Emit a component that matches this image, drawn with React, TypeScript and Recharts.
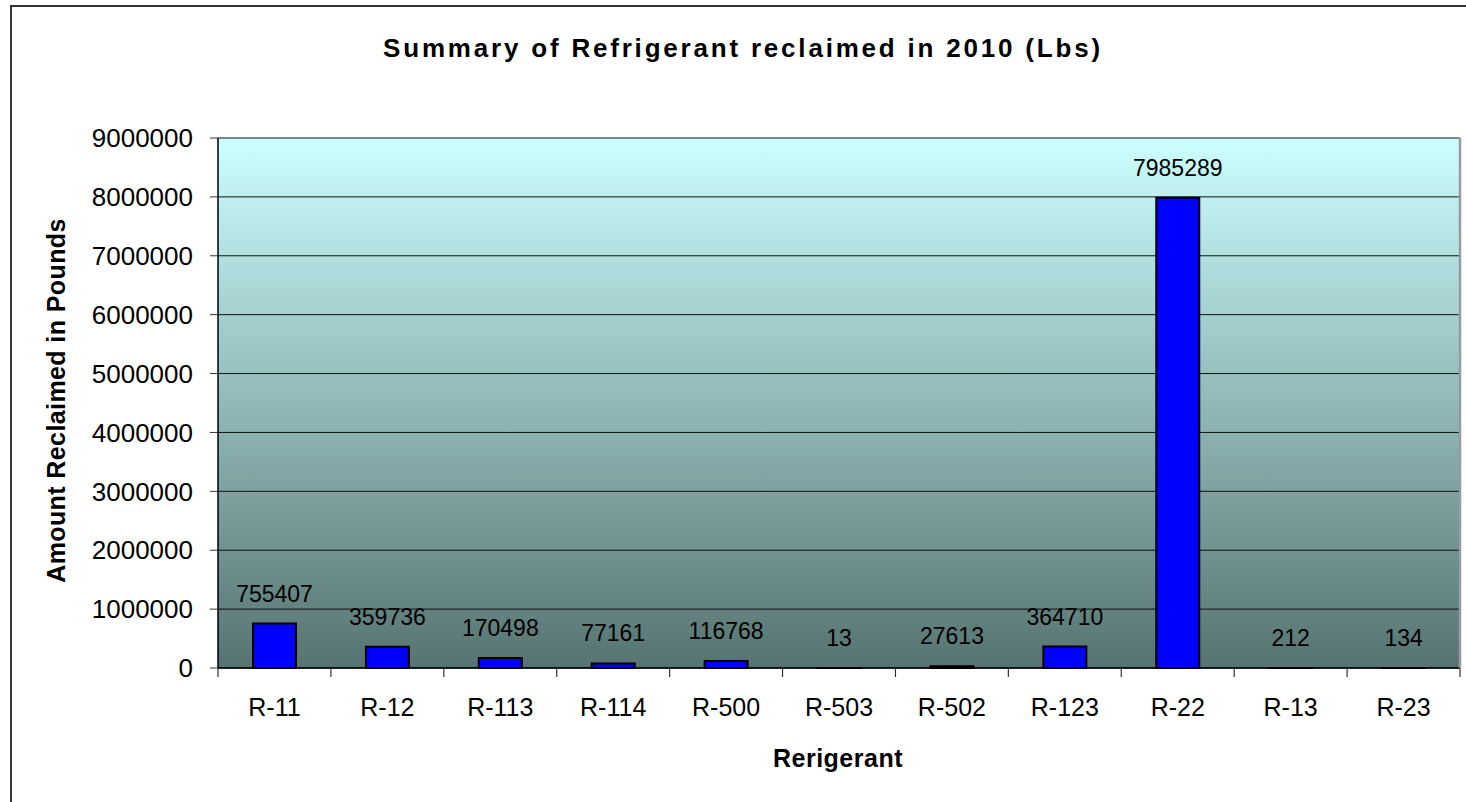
import React from 'react';
import { BarChart, Bar, XAxis, YAxis, CartesianGrid, LabelList } from 'recharts';

const categories = ['R-11', 'R-12', 'R-113', 'R-114', 'R-500', 'R-503', 'R-502', 'R-123', 'R-22', 'R-13', 'R-23'];
const amounts = [755407, 359736, 170498, 77161, 116768, 13, 27613, 364710, 7985289, 212, 134];
const yTicks = [0, 1000000, 2000000, 3000000, 4000000, 5000000, 6000000, 7000000, 8000000, 9000000];

const chartTitle = 'Summary of Refrigerant reclaimed in 2010 (Lbs)';
const xTitle = 'Rerigerant';
const yTitle = 'Amount Reclaimed in Pounds';

const data = categories.map((name, i) => ({ name, value: amounts[i] }));

const FONT = '"Liberation Sans", Arial, sans-serif';

const XTick = (props: any) => {
  const { x, y, payload, index, width } = props;
  const half = payload && typeof payload.offset === 'number' && payload.offset > 0
    ? payload.offset
    : (width || 1242) / categories.length / 2;
  const last = index === categories.length - 1;
  return (
    <g>
      <line x1={x - half} x2={x - half} y1={y} y2={y + 9} stroke="#333" strokeWidth={1.2} />
      {last && <line x1={x + half} x2={x + half} y1={y} y2={y + 9} stroke="#333" strokeWidth={1.2} />}
      <text x={x} y={y + 30} dy="0.71em" textAnchor="middle" fontSize={25} fill="#000" fontFamily={FONT}>
        {payload.value}
      </text>
    </g>
  );
};

export default function App() {
  return (
    <div style={{ position: 'absolute', left: 0, top: 0, width: 1466, height: 802, overflow: 'hidden', background: '#fff', fontFamily: FONT }}>
      <div style={{ position: 'absolute', left: 10, top: 5, width: 1500, height: 900, borderLeft: '2px solid #333', borderTop: '2px solid #333' }} />
      <BarChart
        width={1466}
        height={802}
        data={data}
        margin={{ top: 138, right: 0, bottom: 0, left: 0 }}
        style={{ position: 'absolute', left: 0, top: 0 }}
      >
        <defs>
          <linearGradient id="plotBg" x1="0" y1="0" x2="0" y2="1">
            <stop offset="0%" stopColor="#CCFFFF" />
            <stop offset="100%" stopColor="#567371" />
          </linearGradient>
        </defs>
        <CartesianGrid vertical={false} stroke="#111" strokeWidth={1} fill="url(#plotBg)" fillOpacity={1} />
        <XAxis
          dataKey="name"
          height={134}
          axisLine={{ stroke: '#000', strokeWidth: 1.5 }}
          tickLine={false}
          tickSize={0}
          tickMargin={0}
          interval={0}
          tick={<XTick />}
        />
        <XAxis xAxisId="top" orientation="top" dataKey="name" height={0} axisLine={{ stroke: '#9a9a9a', strokeWidth: 2 }} tick={false} tickLine={false} />
        <YAxis
          width={218}
          domain={[0, 9000000]}
          ticks={yTicks}
          interval={0}
          axisLine={{ stroke: '#000', strokeWidth: 1.5 }}
          tickLine={{ stroke: '#333' }}
          tickSize={8}
          tickMargin={17}
          tickFormatter={(v: number) => String(v)}
          tick={{ fontSize: 26, fill: '#000', fontFamily: FONT }}
        />
        <YAxis yAxisId="right" orientation="right" width={6} axisLine={{ stroke: '#9a9a9a', strokeWidth: 2.5 }} tick={false} tickLine={false} />
        <Bar dataKey="value" fill="#0000FF" stroke="#000" strokeWidth={2} barSize={43} isAnimationActive={false}>
          <LabelList dataKey="value" position="top" offset={22} fill="#000" fontSize={23} fontFamily={FONT} />
        </Bar>
      </BarChart>
      <div style={{ position: 'absolute', left: 243, width: 1000, top: 35, height: 26, lineHeight: '26px', fontSize: 26, fontWeight: 'bold', textAlign: 'center', letterSpacing: 2.8, color: '#000', whiteSpace: 'nowrap' }}>
        {chartTitle}
      </div>
      <div style={{ position: 'absolute', left: 638, width: 400, top: 746, height: 25, lineHeight: '25px', fontSize: 25, fontWeight: 'bold', textAlign: 'center', letterSpacing: 0.5, color: '#000', whiteSpace: 'nowrap' }}>
        {xTitle}
      </div>
      <div style={{ position: 'absolute', left: 56 - 250, width: 500, top: 400 - 12.5, height: 25, lineHeight: '25px', fontSize: 25, fontWeight: 'bold', textAlign: 'center', letterSpacing: 0.4, color: '#000', whiteSpace: 'nowrap', transform: 'rotate(-90deg)', transformOrigin: '50% 50%' }}>
        {yTitle}
      </div>
    </div>
  );
}
